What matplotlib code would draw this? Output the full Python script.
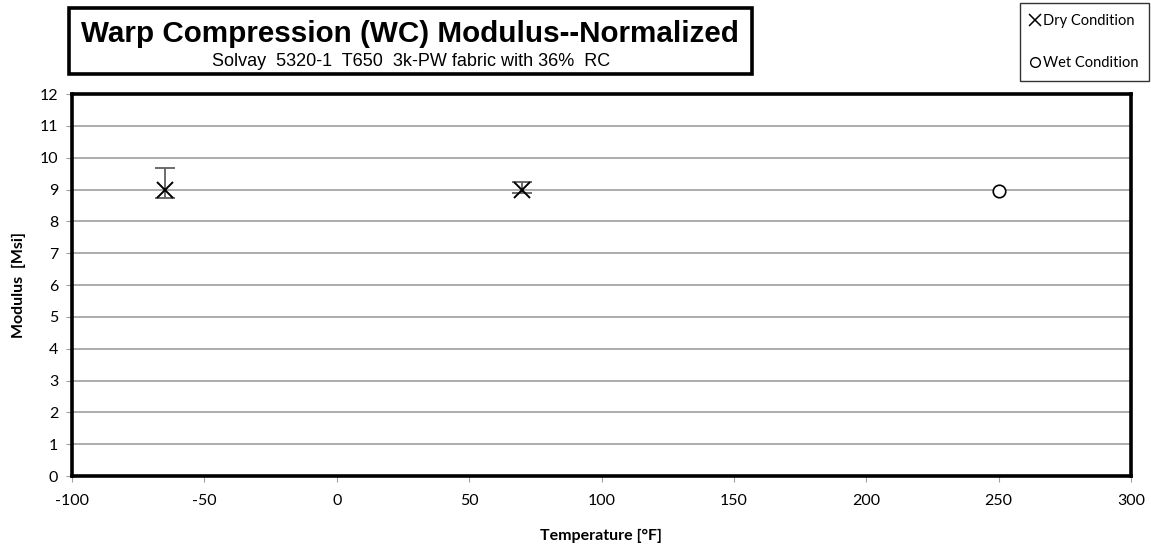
import matplotlib.pyplot as plt
from matplotlib.patches import Rectangle
from matplotlib.lines import Line2D

plt.rcParams['axes.unicode_minus'] = False

# temperaturas e modulos
dry_temp = [-65, 70]
dry_mod = [9.0, 9.0]
dry_err_low = [0.27, 0.12]
dry_err_high = [0.68, 0.25]

wet_temp = [250]
wet_mod = [8.95]

x_ticks = [-100, -50, 0, 50, 100, 150, 200, 250, 300]
y_ticks = list(range(0, 13))

tick_font = 'Lato'

fig = plt.figure(figsize=(11.51, 5.47), dpi=100)
ax = fig.add_axes([72 / 1151, 71 / 547, 1059 / 1151, 382 / 547])

ax.set_xlim(-100, 300)
ax.set_ylim(0, 12)
ax.set_xticks(x_ticks)
ax.set_yticks(y_ticks)
ax.grid(axis='y', color='#a6a6a6', linewidth=1.3)
ax.set_axisbelow(True)
for s in ax.spines.values():
    s.set_linewidth(2.6)
    s.set_color('black')
ax.tick_params(direction='out', length=4, color='#a0a0a0', labelsize=11.5)
ax.tick_params(axis='x', pad=9)
ax.tick_params(axis='y', pad=6)
for lab in ax.get_xticklabels() + ax.get_yticklabels():
    lab.set_fontfamily(tick_font)

# barras de erro e marcadores
ax.errorbar(dry_temp, dry_mod, yerr=[dry_err_low, dry_err_high], fmt='none',
            ecolor='#606060', elinewidth=1.3, capsize=7, capthick=1.3, zorder=3)
ax.plot(dry_temp, dry_mod, 'x', color='black', markersize=11, mew=1.4, zorder=4)
ax.plot(wet_temp, wet_mod, 'o', mfc='white', mec='black', markersize=9, mew=1.2, zorder=4)

ax.set_xlabel('Temperature [°F]', fontfamily=tick_font, fontweight='bold', fontsize=11.5, labelpad=15)
ax.set_ylabel('Modulus  [Msi]', fontfamily=tick_font, fontweight='bold', fontsize=11.5, labelpad=10)

# caixa do titulo
fig.patches.append(Rectangle((69 / 1151, 1 - 74 / 547), 683 / 1151, 66 / 547,
                             transform=fig.transFigure, fill=False, edgecolor='black', linewidth=2.6))
fig.text(410 / 1151, 1 - 34 / 547, 'Warp Compression (WC) Modulus--Normalized',
         fontfamily='Liberation Sans', fontweight='bold', fontsize=21.3, ha='center', va='center')
fig.text(411 / 1151, 1 - 61 / 547, 'Solvay  5320-1  T650  3k-PW fabric with 36%  RC',
         fontfamily='Liberation Sans', fontsize=13, ha='center', va='center')

# legenda
handles = [Line2D([], [], linestyle='none', marker='x', color='black', markersize=8, mew=1.1),
           Line2D([], [], linestyle='none', marker='o', mfc='white', mec='black', markersize=7, mew=1.0)]
leg = fig.legend(handles, ['Dry Condition', 'Wet Condition'], loc='upper right',
                 bbox_to_anchor=(1149 / 1151, 1 - 3 / 547), frameon=True, fancybox=False,
                 edgecolor='black', handlelength=0.6, handletextpad=0.2, labelspacing=1.9,
                 borderpad=0.75, borderaxespad=0, prop={'family': tick_font, 'size': 10.5})
leg.get_frame().set_linewidth(1.0)

fig.savefig('out.png', dpi=100)
